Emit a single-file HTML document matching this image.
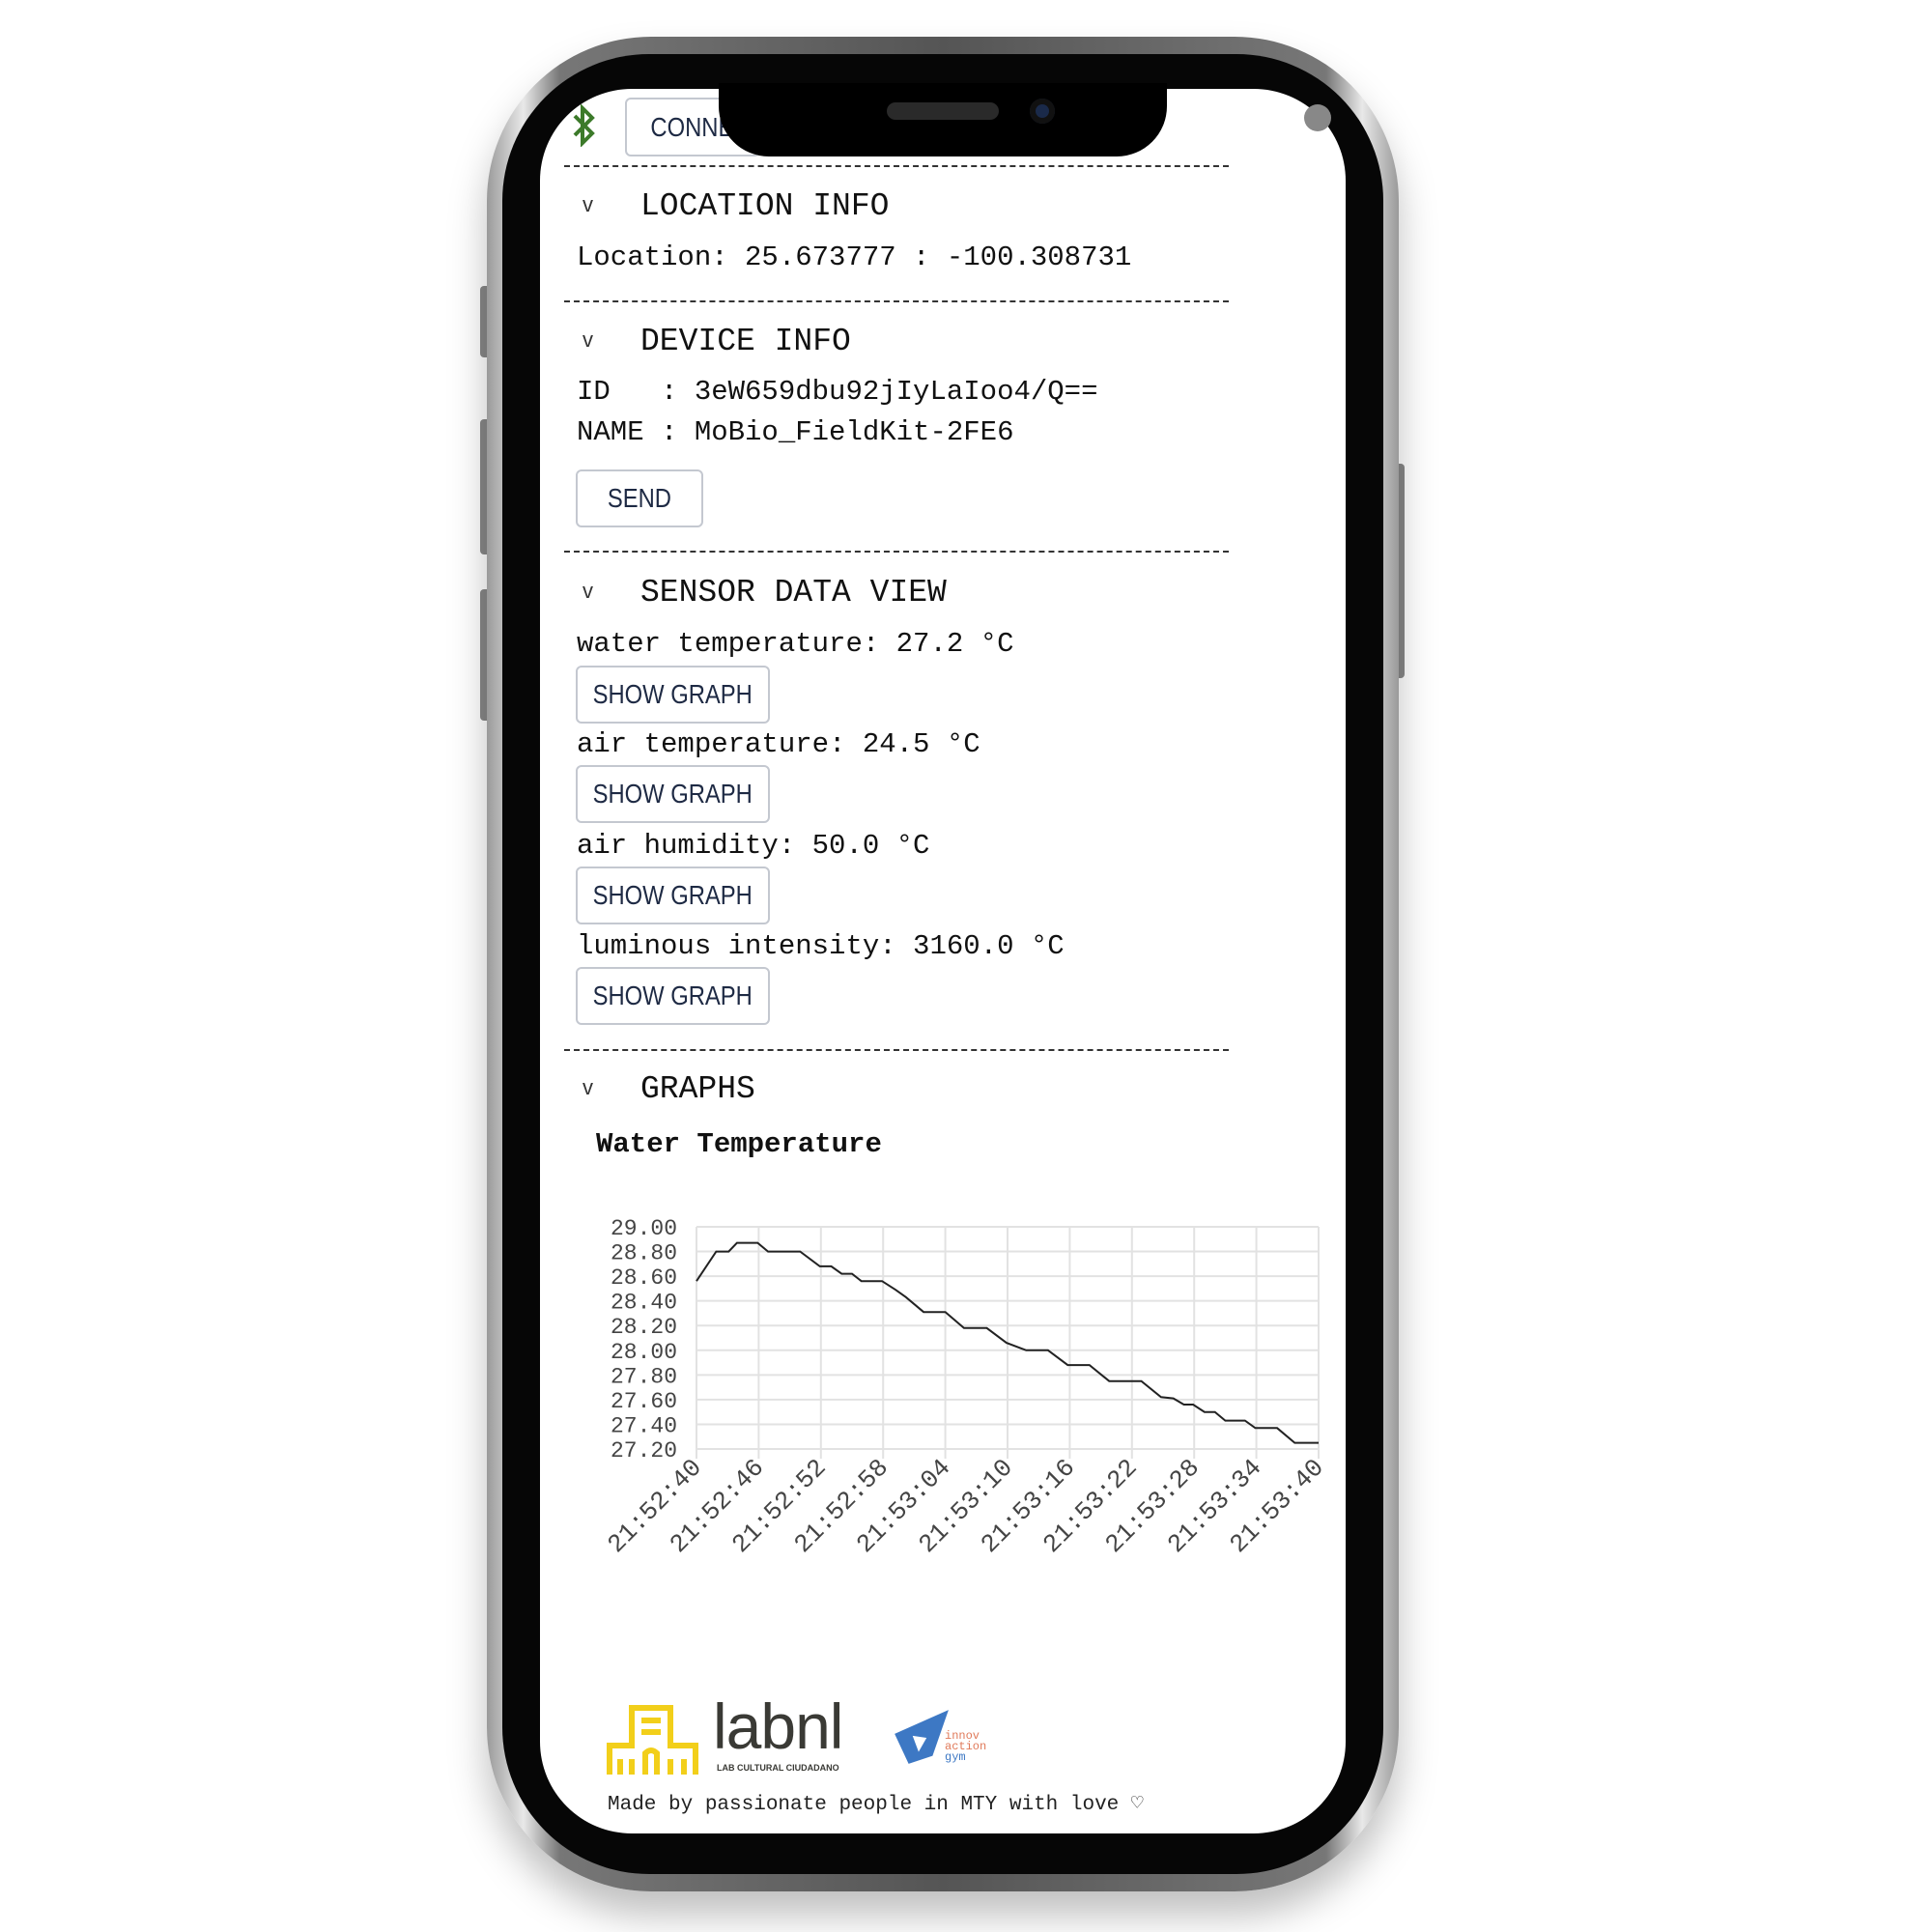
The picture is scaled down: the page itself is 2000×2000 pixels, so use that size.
<!DOCTYPE html>
<html><head><meta charset="utf-8">
<style>
html,body{margin:0;padding:0;background:#fff;}
body{width:2000px;height:2000px;position:relative;overflow:hidden;font-family:"Liberation Mono",monospace;color:#111;}
.abs{position:absolute;}
.t{position:absolute;white-space:pre;line-height:40px;height:40px;}
.h{font-size:33px;}
.b{font-size:29px;}
.dash{position:absolute;left:584px;width:688px;height:0;border-top:2px dashed #333;}
.chev{position:absolute;font-size:22px;color:#333;font-family:"Liberation Sans",sans-serif;}
.btn{position:absolute;border:2px solid #c4c8d0;border-radius:6px;background:#fff;box-sizing:border-box;font-family:"Liberation Sans",sans-serif;font-size:28px;color:#1e2a44;display:flex;align-items:center;justify-content:center;}
.btn span{display:inline-block;transform:scaleX(0.85);}
</style></head>
<body>
<div class="abs" style="left:497px;top:296px;width:12px;height:74px;background:#888;border-radius:4px;"></div>
<div class="abs" style="left:497px;top:434px;width:12px;height:140px;background:#888;border-radius:4px;"></div>
<div class="abs" style="left:497px;top:610px;width:12px;height:136px;background:#888;border-radius:4px;"></div>
<div class="abs" style="left:1442px;top:480px;width:12px;height:222px;background:#888;border-radius:4px;"></div>
<div class="abs" style="left:504px;top:38px;width:944px;height:1920px;border-radius:170px;background:linear-gradient(90deg,#9a9a9a,#e8e8e8 4%,#777 8%,#555 50%,#777 92%,#e8e8e8 96%,#9a9a9a);box-shadow:0 25px 40px rgba(0,0,0,0.25);"></div>
<div class="abs" style="left:520px;top:56px;width:912px;height:1884px;border-radius:152px;background:#060606;"></div>
<div class="abs" style="left:559px;top:92px;width:834px;height:1806px;border-radius:95px;background:#fff;overflow:hidden;"></div>
<div class="abs" style="left:744px;top:86px;width:464px;height:76px;background:#000;border-radius:0 0 52px 52px;z-index:5;"></div>
<div class="abs" style="left:918px;top:106px;width:116px;height:18px;border-radius:9px;background:#2a2a2a;z-index:6;"></div>
<div class="abs" style="left:1066px;top:102px;width:26px;height:26px;border-radius:50%;background:#1a2a4a;box-shadow:inset 0 0 0 6px #111;z-index:6;"></div>
<div class="abs" style="left:1350px;top:108px;width:28px;height:28px;border-radius:50%;background:#888;"></div>

<svg class="abs" style="left:589px;top:108px" width="30" height="44" viewBox="0 0 30 44"><path d="M6 12 L24 30 L14 40 L14 4 L24 14 L6 32" fill="none" stroke="#3c7a2a" stroke-width="4"/></svg>
<div class="btn" style="left:647px;top:101px;width:140px;height:61px;justify-content:flex-start;padding-left:14px;z-index:1;"><span>CONNECT</span></div>

<div class="dash" style="top:171px"></div>
<div class="chev" style="left:603px;top:199px">v</div>
<div class="t h" style="left:663px;top:194px">LOCATION INFO</div>
<div class="t b" style="left:597px;top:247px">Location: 25.673777 : -100.308731</div>

<div class="dash" style="top:311px"></div>
<div class="chev" style="left:603px;top:339px">v</div>
<div class="t h" style="left:663px;top:334px">DEVICE INFO</div>
<div class="t b" style="left:597px;top:386px">ID   : 3eW659dbu92jIyLaIoo4/Q==</div>
<div class="t b" style="left:597px;top:428px">NAME : MoBio_FieldKit-2FE6</div>
<div class="btn" style="left:596px;top:486px;width:132px;height:60px;"><span>SEND</span></div>

<div class="dash" style="top:570px"></div>
<div class="chev" style="left:603px;top:599px">v</div>
<div class="t h" style="left:663px;top:594px">SENSOR DATA VIEW</div>
<div class="t b" style="left:597px;top:647px">water temperature: 27.2 °C</div>
<div class="btn" style="left:596px;top:689px;width:201px;height:60px;"><span>SHOW GRAPH</span></div>
<div class="t b" style="left:597px;top:751px">air temperature: 24.5 °C</div>
<div class="btn" style="left:596px;top:792px;width:201px;height:60px;"><span>SHOW GRAPH</span></div>
<div class="t b" style="left:597px;top:856px">air humidity: 50.0 °C</div>
<div class="btn" style="left:596px;top:897px;width:201px;height:60px;"><span>SHOW GRAPH</span></div>
<div class="t b" style="left:597px;top:960px">luminous intensity: 3160.0 °C</div>
<div class="btn" style="left:596px;top:1001px;width:201px;height:60px;"><span>SHOW GRAPH</span></div>

<div class="dash" style="top:1086px"></div>
<div class="chev" style="left:603px;top:1113px">v</div>
<div class="t h" style="left:663px;top:1108px">GRAPHS</div>
<div class="t b" style="left:617px;top:1165px;font-weight:bold;">Water Temperature</div>

<svg id="chart" class="abs" style="left:0;top:0" width="2000" height="2000"></svg>

<svg class="abs" style="left:628px;top:1765px" width="110" height="74" viewBox="0 0 110 74"><g fill="none" stroke="#f2cf1a" stroke-width="6"><path d="M3 72 V42 H26 V3 H66 V42 H92 V72"/><path d="M36 16 H56 M36 28 H56"/><path d="M14 72 V56 M26 72 V56 M40 72 V50 Q46 44 52 50 V72 M66 72 V56 M80 72 V56"/></g></svg>
<div class="abs" style="left:738px;top:1752px;font-family:'Liberation Sans',sans-serif;font-size:66px;color:#3a3a35;line-height:70px;letter-spacing:-1px;">labnl</div>
<div class="abs" style="left:742px;top:1825px;font-family:'Liberation Sans',sans-serif;font-size:9px;font-weight:bold;color:#3a3a35;">LAB CULTURAL CIUDADANO</div>
<svg class="abs" style="left:922px;top:1768px" width="62" height="62" viewBox="0 0 60 60"><path d="M58 2 L4 26 L18 56 L42 48 Z" fill="#3d78c4"/><path d="M22 28 L36 30 L28 44" fill="#fff"/></svg>
<div class="abs" style="left:978px;top:1792px;font-family:'Liberation Mono',monospace;font-size:12px;line-height:11px;color:#e07a5a;">innov<br>action<br><span style="color:#3d78c4">gym</span></div>
<div class="t" style="left:629px;top:1852px;font-size:21px;line-height:34px;color:#222;">Made by passionate people in MTY with love ♡</div>

<script>
const times = [0,1.9,3.1,3.9,5.9,6.9,10,11.9,13,14,15,15.9,17.9,19.2,20.2,21.9,24,25.8,28,29.9,31.8,33.9,35.8,37.9,39.8,42.9,44.8,46,47,47.9,49,50,51,52.9,53.9,56,57.7,60];
const values = [28.56,28.80,28.80,28.87,28.87,28.80,28.80,28.68,28.68,28.62,28.62,28.56,28.56,28.49,28.43,28.31,28.31,28.18,28.18,28.06,28.00,28.00,27.88,27.88,27.75,27.75,27.62,27.61,27.56,27.56,27.50,27.50,27.43,27.43,27.37,27.37,27.25,27.25];
const yTicks = [29.00,28.80,28.60,28.40,28.20,28.00,27.80,27.60,27.40,27.20];
const xTickTimes = [0,6,12,18,24,30,36,42,48,54,60];
const xTickLabels = ["21:52:40","21:52:46","21:52:52","21:52:58","21:53:04","21:53:10","21:53:16","21:53:22","21:53:28","21:53:34","21:53:40"];

const NS="http://www.w3.org/2000/svg";
const svg=document.getElementById('chart');
const L=721,R=1365,T=1270,B=1500,yMin=27.2,yMax=29.0,tMax=60;
const xs=t=>L+(t/tMax)*(R-L);
const ys=v=>B-(v-yMin)/(yMax-yMin)*(B-T);
function mk(tag,attrs){const e=document.createElementNS(NS,tag);for(const k in attrs)e.setAttribute(k,attrs[k]);svg.appendChild(e);return e;}

yTicks.forEach(v=>{
  const g=mk('line',{x1:L,x2:R,y1:ys(v),y2:ys(v),stroke:'#e2e2e2','stroke-width':2});
  
  
  const tx=mk('text',{x:L-20,y:ys(v)+8,'text-anchor':'end','font-family':'Liberation Mono, monospace','font-size':23,fill:'#444'});
  tx.textContent=v.toFixed(2);
  
  
});
xTickTimes.forEach((t,i)=>{
  const g=mk('line',{x1:xs(t),x2:xs(t),y1:T,y2:B+10,stroke:'#e2e2e2','stroke-width':2});
  
  
  const x=xs(t)+6,y=B+20;
  const tx=mk('text',{x:x,y:y,'text-anchor':'end','font-family':'Liberation Mono, monospace','font-size':26,fill:'#444',transform:`rotate(-45 ${x} ${y})`});
  tx.textContent=xTickLabels[i];
  
  
});
const pts=times.map((t,i)=>xs(t).toFixed(1)+','+ys(values[i]).toFixed(1)).join(' ');
const line=mk('polyline',{points:pts,fill:'none',stroke:'#222','stroke-width':2});


</script>
</body></html>
